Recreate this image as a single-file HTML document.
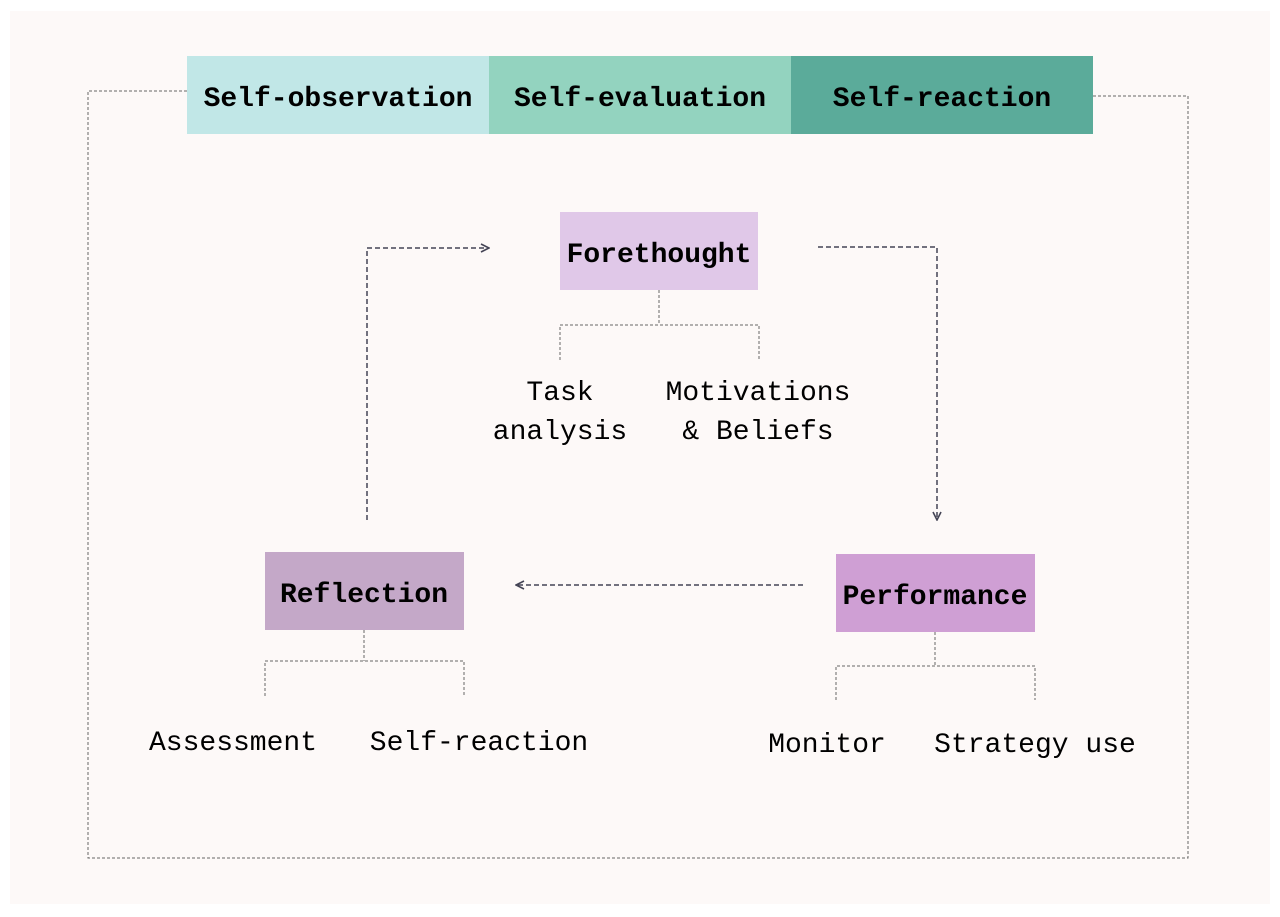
<!DOCTYPE html>
<html><head><style>
html,body{margin:0;padding:0;background:#fff;}
svg{display:block;}
text{font-family:"Liberation Mono",monospace;font-size:28px;fill:#000;}
.b{font-weight:bold;}
</style></head><body>
<svg width="1280" height="917" viewBox="0 0 1280 917">
<defs>
<marker id="a" viewBox="0 0 10 10" refX="9" refY="5" markerWidth="10" markerHeight="10" markerUnits="userSpaceOnUse" orient="auto">
<path d="M1,1 L9,5 L1,9" fill="none" stroke="#444455" stroke-width="1.6"/>
</marker>
</defs>
<rect x="10" y="11" width="1260" height="893" fill="#fdf9f8"/>
<path d="M187,91 H88 V858 H1188 V96 H1093" fill="none" stroke="#666" stroke-width="1" stroke-dasharray="3,2"/>
<rect x="187" y="56" width="302" height="78" fill="#c1e7e7"/>
<rect x="489" y="56" width="302" height="78" fill="#93d3bf"/>
<rect x="791" y="56" width="302" height="78" fill="#5bab9a"/>
<text class="b" x="338" y="106" text-anchor="middle">Self-observation</text>
<text class="b" x="640" y="106" text-anchor="middle">Self-evaluation</text>
<text class="b" x="942" y="106" text-anchor="middle">Self-reaction</text>

<rect x="560" y="212" width="198" height="78" fill="#e0c8e8"/>
<text class="b" x="659" y="262" text-anchor="middle">Forethought</text>
<path d="M659,290 V325 M560,360 V325 H759 V360" fill="none" stroke="#666" stroke-width="1" stroke-dasharray="3,2"/>
<text x="560" y="400" text-anchor="middle">Task</text>
<text x="560" y="439" text-anchor="middle">analysis</text>
<text x="758" y="400" text-anchor="middle">Motivations</text>
<text x="758" y="439" text-anchor="middle">&amp; Beliefs</text>

<path d="M367,520 V248 H489" fill="none" stroke="#444455" stroke-width="1.5" stroke-dasharray="5,3" marker-end="url(#a)"/>
<path d="M818,247 H937 V520" fill="none" stroke="#444455" stroke-width="1.5" stroke-dasharray="5,3" marker-end="url(#a)"/>
<path d="M803,585 H516" fill="none" stroke="#444455" stroke-width="1.5" stroke-dasharray="5,3" marker-end="url(#a)"/>

<rect x="265" y="552" width="199" height="78" fill="#c4a8c8"/>
<text class="b" x="364" y="602" text-anchor="middle">Reflection</text>
<path d="M364,630 V661 M265,696 V661 H464 V696" fill="none" stroke="#666" stroke-width="1" stroke-dasharray="3,2"/>
<text x="233" y="750" text-anchor="middle">Assessment</text>
<text x="479" y="750" text-anchor="middle">Self-reaction</text>

<rect x="836" y="554" width="199" height="78" fill="#cf9fd4"/>
<text class="b" x="935" y="604" text-anchor="middle">Performance</text>
<path d="M935,632 V666 M836,700 V666 H1035 V700" fill="none" stroke="#666" stroke-width="1" stroke-dasharray="3,2"/>
<text x="827" y="752" text-anchor="middle">Monitor</text>
<text x="1035" y="752" text-anchor="middle">Strategy use</text>
</svg>
</body></html>
